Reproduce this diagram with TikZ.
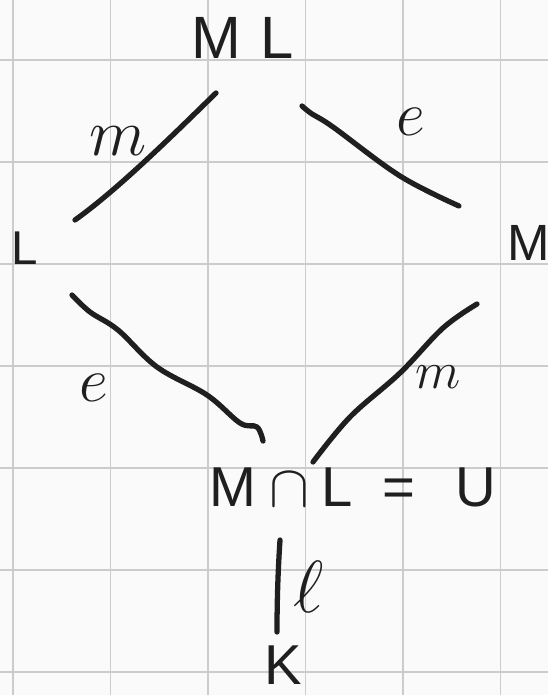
\RequirePackage{fix-cm}
\documentclass[tikz,border=0pt]{standalone}
\usepackage{fontspec}
\setmainfont{Liberation Sans}
\begin{document}
\begin{tikzpicture}[x=0.02cm,y=-0.02cm,
  ink/.style={line width=3pt, line cap=round, line join=round, black!88},
  gridline/.style={line width=1.1pt, black!20},
  fieldtext/.style={inner sep=0pt, text=black!88},
  lab/.style={inner sep=0pt, text=black!88}]
\useasboundingbox (0,0) rectangle (548,695);
\fill[white!98!black] (0,0) rectangle (548,695);
% grid
\foreach \x in {13,110.5,208,305.5,403,500.5} \draw[gridline] (\x,0) -- (\x,695);
\foreach \y in {60,162,264,366,468,570,672} \draw[gridline] (0,\y) -- (548,\y);
% fields
\node[fieldtext, font=\fontsize{34}{34}\selectfont] (ML) at (243,38) {M\hspace{11pt}L};
\node[fieldtext, font=\fontsize{27}{27}\selectfont] (L) at (25,248) {L};
\node[fieldtext, font=\fontsize{29}{29}\selectfont] (M) at (529,243) {M};
\node[fieldtext, font=\fontsize{32}{32}\selectfont] (U) at (353,487) {M\hspace{7pt}{\fontsize{34}{34}\selectfont$\cap$}\hspace{7pt}L\hspace{17pt}=\hspace{23pt}U};
\node[fieldtext, font=\fontsize{32}{32}\selectfont] (K) at (283,665) {K};
% connector end points
\coordinate (a1) at (216,93);  \coordinate (a2) at (75,220);
\coordinate (b1) at (302,106); \coordinate (b2) at (459,206);
\coordinate (c1) at (72,295);  \coordinate (c2) at (263,441);
\coordinate (d1) at (477,304); \coordinate (d2) at (313,462);
\coordinate (k1) at (280,540); \coordinate (k2) at (277,632);
% connectors
\draw[ink] (a1) .. controls (180,128) and (120,188) .. (a2);
\draw[ink] plot[smooth, tension=0.6] coordinates {(b1) (312,114) (333,127) (400,176) (b2)};
\draw[ink] plot[smooth, tension=0.6] coordinates {(c1) (90,312) (118,330) (157,367) (207,395) (240,423) (257,427) (c2)};
\draw[ink] plot[smooth, tension=0.6] coordinates {(d1) (443,328) (400,373) (350,417) (d2)};
\draw[ink] (k1) .. controls (278,570) and (277,600) .. (k2);
% labels
\node[lab, font=\fontsize{38}{38}\selectfont] (m1) at (118,141) {$m$};
\node[lab, font=\fontsize{36}{36}\selectfont] (e1) at (411,122) {$e$};
\node[lab, font=\fontsize{36}{36}\selectfont] (e2) at (94,388) {$e$};
\node[lab, font=\fontsize{30}{30}\selectfont] (m2) at (438,377) {$m$};
\node[lab, font=\fontsize{42}{42}\selectfont] (l1) at (309,587) {$\ell$};
\end{tikzpicture}
\end{document}
